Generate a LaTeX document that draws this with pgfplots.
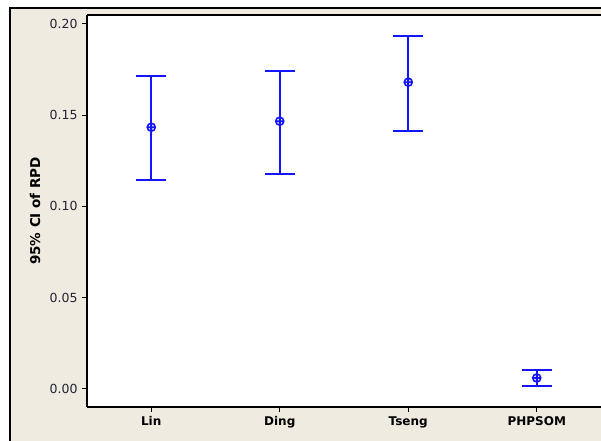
\documentclass[border=0pt]{standalone}
\usepackage{pgfplots}
\pgfplotsset{compat=1.18}
\usepackage{fontspec}
\setmainfont{DejaVu Sans}
\definecolor{panelbg}{RGB}{239,235,224}
\definecolor{barblue}{RGB}{20,20,255}
\definecolor{ticktxt}{RGB}{35,35,55}
\begin{document}
\begin{tikzpicture}
\useasboundingbox (-87bp,-34bp) rectangle (514bp,407bp);
\fill[white] (-87bp,-34bp) rectangle (514bp,407bp);
\fill[panelbg] (-77bp,-34bp) rectangle (514bp,399bp);
\draw[black, line width=1.6bp] (-77bp,-34bp) -- (-77bp,399bp) -- (514bp,399bp);
\begin{axis}[
  at={(0,0)}, anchor=south west,
  scale only axis,
  width=514bp, height=392bp,
  xmin=-0.5, xmax=3.5,
  ymin=-0.0099, ymax=0.2049,
  axis x line=box, axis y line=left,
  axis line style={-, line width=1.3bp, black},
  axis background/.style={fill=white},
  xtick={0,1,2,3},
  xticklabels={Lin,Ding,Tseng,PHPSOM},
  ytick={0,0.05,0.10,0.15,0.20},
  xtick pos=lower, ytick pos=left,
  tick align=outside,
  major tick length=5bp,
  tick style={line width=1bp, black},
  /pgf/number format/assume math mode=true,
  /pgf/number format/fixed,
  /pgf/number format/fixed zerofill,
  /pgf/number format/precision=2,
  yticklabel style={font=\fontsize{12.5bp}{14bp}\selectfont, text=ticktxt, xshift=-1bp},
  xticklabel style={font=\fontsize{12bp}{14bp}\selectfont\bfseries, text=black, yshift=-1bp},
  ylabel={95\% CI of RPD},
  ylabel style={font=\fontsize{13.5bp}{15bp}\selectfont\bfseries, at={(axis description cs:-0.101,0.5)}, anchor=center, rotate=0},
  clip=false,
]
\addplot[
  only marks, barblue,
  mark=oplus, mark size=4bp, mark options={line width=1.6bp, barblue},
  error bars/.cd,
    y dir=both, y explicit,
    error mark=|,
    error bar style={line width=2bp, barblue},
    error mark options={line width=2bp, mark size=15bp, barblue},
] table[x=x, y=y, y error plus=ep, y error minus=em] {
x y ep em
0 0.1434 0.0280 0.0291
1 0.1467 0.0275 0.0291
2 0.1681 0.0253 0.0269
3 0.0060 0.0044 0.0044
};
\end{axis}
\end{tikzpicture}
\end{document}
